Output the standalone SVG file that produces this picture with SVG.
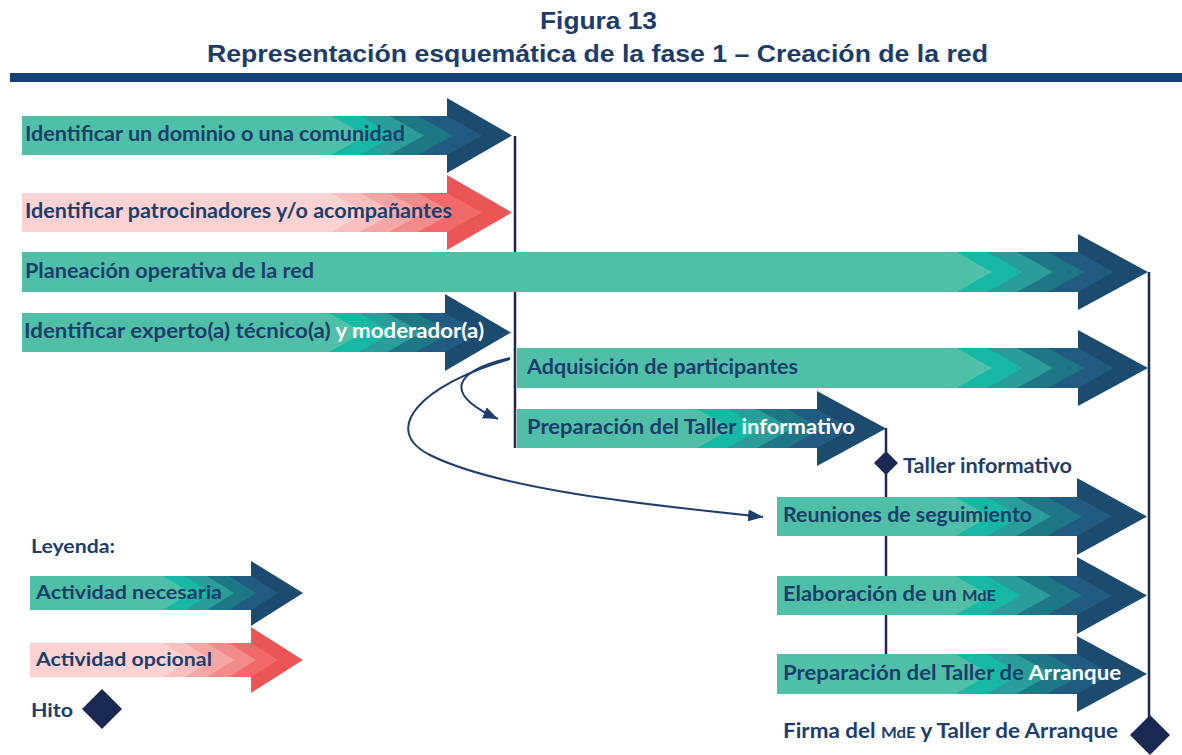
<svg xmlns="http://www.w3.org/2000/svg" width="1182" height="755" viewBox="0 0 1182 755">
<defs>
<style>
.g0{fill:#4fc0a7}.g1{fill:#17b9a5}.g2{fill:#2a9d9a}.g3{fill:#1e7784}.g4{fill:#225b81}.g5{fill:#1b4b6e}
.p0{fill:#fbd1d1}.p1{fill:#f9bebe}.p2{fill:#f6a5a5}.p3{fill:#f38b8b}.p4{fill:#f06a6a}.p5{fill:#ea5555}
.t{font-family:Lato,"Open Sans",sans-serif;font-weight:700;font-size:20px;fill:#1c3e6c}
.w{fill:#ffffff}
.sc{font-size:15px}
.ttl{font-family:"Liberation Sans",Arial,sans-serif;font-weight:700;font-size:24px;fill:#1c3d6b}
.vl{stroke:#1b2a55;stroke-width:2.5;fill:none}
.cv{stroke:#1c3e6c;stroke-width:2;fill:none}
.dm{fill:#1b2a55}
</style>
<marker id="ah" markerUnits="userSpaceOnUse" markerWidth="16" markerHeight="12" refX="15" refY="6" orient="auto">
<path d="M0,0 L15,6 L0,12 z" fill="#1c3e6c"/>
</marker>
</defs>
<rect width="1182" height="755" fill="#ffffff"/>
<g id="title">
<text class="ttl" x="598.5" y="29" text-anchor="middle" textLength="117" lengthAdjust="spacingAndGlyphs">Figura 13</text>
<text class="ttl" x="597.5" y="62" text-anchor="middle" textLength="781" lengthAdjust="spacingAndGlyphs">Representación esquemática de la fase 1 – Creación de la red</text>
<rect x="10" y="73" width="1172" height="9" fill="#154374"/>
</g>
<g id="connectors">
<line class="vl" x1="515" y1="136" x2="515" y2="448"/>
<line class="vl" x1="886" y1="428" x2="886" y2="654"/>
<line class="vl" x1="1149" y1="272" x2="1149" y2="735"/>
<path class="cv" d="M510,358 C450,372 445,395 498,419" marker-end="url(#ah)"/>
<path class="cv" d="M510,359 C420,385 380,430 430,455 C500,490 650,505 763,517" marker-end="url(#ah)"/>
</g>
<g id="n-dominio">
<polygon class="g5" points="22,116 447,116 447,98 512,135.5 447,173 447,155 22,155"/>
<polygon class="g4" points="22,116 447,116 482,135.5 447,155 22,155"/>
<polygon class="g3" points="22,116 418,116 453,135.5 418,155 22,155"/>
<polygon class="g2" points="22,116 389,116 424,135.5 389,155 22,155"/>
<polygon class="g1" points="22,116 360,116 395,135.5 360,155 22,155"/>
<polygon class="g0" points="22,116 331,116 366,135.5 331,155 22,155"/>
<text class="t" x="25" y="141" textLength="380" lengthAdjust="spacingAndGlyphs">Identificar un dominio o una comunidad</text>
</g>
<g id="n-patrocinadores">
<polygon class="p5" points="22,193 447,193 447,175 512,212.5 447,250 447,232 22,232"/>
<polygon class="p4" points="22,193 447,193 482,212.5 447,232 22,232"/>
<polygon class="p3" points="22,193 418,193 453,212.5 418,232 22,232"/>
<polygon class="p2" points="22,193 389,193 424,212.5 389,232 22,232"/>
<polygon class="p1" points="22,193 360,193 395,212.5 360,232 22,232"/>
<polygon class="p0" points="22,193 331,193 366,212.5 331,232 22,232"/>
<text class="t" x="25" y="218" textLength="427" lengthAdjust="spacingAndGlyphs">Identificar patrocinadores y/o acompañantes</text>
</g>
<g id="n-planeacion">
<polygon class="g5" points="22,252 1078,252 1078,234 1148,272 1078,310 1078,292 22,292"/>
<polygon class="g4" points="22,252 1078,252 1114,272 1078,292 22,292"/>
<polygon class="g3" points="22,252 1048,252 1084,272 1048,292 22,292"/>
<polygon class="g2" points="22,252 1017,252 1053,272 1017,292 22,292"/>
<polygon class="g1" points="22,252 987,252 1023,272 987,292 22,292"/>
<polygon class="g0" points="22,252 956,252 992,272 956,292 22,292"/>
<text class="t" x="25" y="277.5" textLength="289" lengthAdjust="spacingAndGlyphs">Planeación operativa de la red</text>
</g>
<g id="n-experto">
<polygon class="g5" points="22,313 445,313 445,294 511,332.5 445,371 445,352 22,352"/>
<polygon class="g4" points="22,313 445,313 480,332.5 445,352 22,352"/>
<polygon class="g3" points="22,313 416,313 451,332.5 416,352 22,352"/>
<polygon class="g2" points="22,313 387,313 422,332.5 387,352 22,352"/>
<polygon class="g1" points="22,313 358,313 393,332.5 358,352 22,352"/>
<polygon class="g0" points="22,313 329,313 364,332.5 329,352 22,352"/>
<text class="t" x="24" y="338" textLength="460" lengthAdjust="spacingAndGlyphs">Identificar experto(a) técnico(a) <tspan class="w">y moderador(a)</tspan></text>
</g>
<g id="n-adquisicion">
<polygon class="g5" points="517,348 1078,348 1078,330 1148,368 1078,406 1078,388 517,388"/>
<polygon class="g4" points="517,348 1078,348 1114,368 1078,388 517,388"/>
<polygon class="g3" points="517,348 1048,348 1084,368 1048,388 517,388"/>
<polygon class="g2" points="517,348 1017,348 1053,368 1017,388 517,388"/>
<polygon class="g1" points="517,348 987,348 1023,368 987,388 517,388"/>
<polygon class="g0" points="517,348 956,348 992,368 956,388 517,388"/>
<text class="t" x="527" y="373.5" textLength="271" lengthAdjust="spacingAndGlyphs">Adquisición de participantes</text>
</g>
<g id="n-prep-informativo">
<polygon class="g5" points="517,409 817,409 817,391 886,428.5 817,466 817,448 517,448"/>
<polygon class="g4" points="517,409 817,409 852,428.5 817,448 517,448"/>
<polygon class="g3" points="517,409 787,409 822,428.5 787,448 517,448"/>
<polygon class="g2" points="517,409 757,409 792,428.5 757,448 517,448"/>
<polygon class="g1" points="517,409 727,409 762,428.5 727,448 517,448"/>
<polygon class="g0" points="517,409 697,409 732,428.5 697,448 517,448"/>
<text class="t" x="527" y="434" textLength="328" lengthAdjust="spacingAndGlyphs">Preparación del Taller <tspan class="w">informativo</tspan></text>
</g>
<g id="m-taller-informativo">
<polygon class="dm" points="886,451 898,463 886,475 874,463"/>
<text class="t" x="903" y="473" textLength="169" lengthAdjust="spacingAndGlyphs">Taller informativo</text>
</g>
<g id="n-reuniones">
<polygon class="g5" points="777,497 1077,497 1077,478 1147,516.5 1077,555 1077,536 777,536"/>
<polygon class="g4" points="777,497 1077,497 1112,516.5 1077,536 777,536"/>
<polygon class="g3" points="777,497 1047,497 1082,516.5 1047,536 777,536"/>
<polygon class="g2" points="777,497 1016,497 1051,516.5 1016,536 777,536"/>
<polygon class="g1" points="777,497 986,497 1021,516.5 986,536 777,536"/>
<polygon class="g0" points="777,497 955,497 990,516.5 955,536 777,536"/>
<text class="t" x="783" y="522" textLength="249" lengthAdjust="spacingAndGlyphs">Reuniones de seguimiento</text>
</g>
<g id="n-elaboracion">
<polygon class="g5" points="777,576 1077,576 1077,557 1147,595.5 1077,634 1077,615 777,615"/>
<polygon class="g4" points="777,576 1077,576 1112,595.5 1077,615 777,615"/>
<polygon class="g3" points="777,576 1047,576 1082,595.5 1047,615 777,615"/>
<polygon class="g2" points="777,576 1016,576 1051,595.5 1016,615 777,615"/>
<polygon class="g1" points="777,576 986,576 1021,595.5 986,615 777,615"/>
<polygon class="g0" points="777,576 955,576 990,595.5 955,615 777,615"/>
<text class="t" x="783" y="601" textLength="213" lengthAdjust="spacingAndGlyphs">Elaboración de un <tspan class="sc">MdE</tspan></text>
</g>
<g id="n-prep-arranque">
<polygon class="g5" points="777,654 1077,654 1077,636 1147,674 1077,712 1077,694 777,694"/>
<polygon class="g4" points="777,654 1077,654 1113,674 1077,694 777,694"/>
<polygon class="g3" points="777,654 1047,654 1083,674 1047,694 777,694"/>
<polygon class="g2" points="777,654 1016,654 1052,674 1016,694 777,694"/>
<polygon class="g1" points="777,654 986,654 1022,674 986,694 777,694"/>
<polygon class="g0" points="777,654 955,654 991,674 955,694 777,694"/>
<text class="t" x="783" y="679.5" textLength="338" lengthAdjust="spacingAndGlyphs">Preparación del Taller de <tspan class="w">Arranque</tspan></text>
</g>
<g id="m-firma">
<polygon class="dm" points="1150,715 1170,735 1150,755 1130,735"/>
<text class="t" x="783" y="738" textLength="335" lengthAdjust="spacingAndGlyphs">Firma del <tspan class="sc">MdE</tspan> y Taller de Arranque</text>
</g>
<g id="legend">
<text class="t" x="31" y="553" style="font-size:18px" textLength="84" lengthAdjust="spacingAndGlyphs">Leyenda:</text>
<g id="legend-necesaria">
<polygon class="g5" points="30,576 251,576 251,561 303,593 251,626 251,610 30,610"/>
<polygon class="g4" points="30,576 251,576 278,593 251,610 30,610"/>
<polygon class="g3" points="30,576 229,576 256,593 229,610 30,610"/>
<polygon class="g2" points="30,576 207,576 234,593 207,610 30,610"/>
<polygon class="g1" points="30,576 185,576 212,593 185,610 30,610"/>
<polygon class="g0" points="30,576 163,576 190,593 163,610 30,610"/>
<text class="t" x="36" y="598.5" style="font-size:18.5px" textLength="186" lengthAdjust="spacingAndGlyphs">Actividad necesaria</text>
</g>
<g id="legend-opcional">
<polygon class="p5" points="30,643 251,643 251,627 303,660 251,693 251,677 30,677"/>
<polygon class="p4" points="30,643 251,643 278,660 251,677 30,677"/>
<polygon class="p3" points="30,643 229,643 256,660 229,677 30,677"/>
<polygon class="p2" points="30,643 207,643 234,660 207,677 30,677"/>
<polygon class="p1" points="30,643 185,643 212,660 185,677 30,677"/>
<polygon class="p0" points="30,643 163,643 190,660 163,677 30,677"/>
<text class="t" x="36" y="666" style="font-size:18.5px" textLength="176" lengthAdjust="spacingAndGlyphs">Actividad opcional</text>
</g>
<g id="legend-hito">
<text class="t" x="31" y="717" style="font-size:18.5px" textLength="42" lengthAdjust="spacingAndGlyphs">Hito</text>
<polygon class="dm" points="102,689 122,709 102,729 82,709"/>
</g>
</g>
</svg>
